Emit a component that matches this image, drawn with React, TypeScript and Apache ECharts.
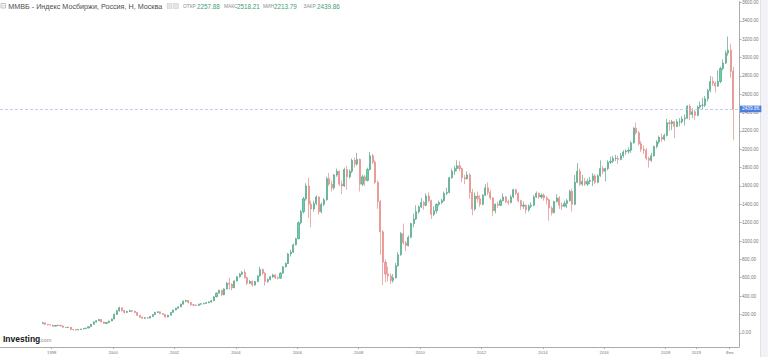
import React, { useEffect, useRef } from 'react';
import * as echarts from 'echarts';

const FONT = '"Liberation Sans", Arial, "DejaVu Sans", sans-serif';

// Monthly candles, first month = 1997-09
const START_YEAR = 1997;
const START_MONTH = 8; // 0-based (September)
const FIRST_OPEN = 100;

const closes = [
  108, 92, 86, 84, // 1997 Sep-Dec
  72, 80, 82, 74, 60, 56, 60, 36, 33, 30, 36, 40, // 1998
  46, 52, 66, 92, 118, 132, 145, 118, 102, 112, 128, 150, // 1999
  200, 238, 272, 242, 222, 232, 240, 236, 222, 190, 170, 158, // 2000
  165, 160, 178, 198, 222, 228, 210, 198, 172, 192, 222, 248, // 2001
  268, 282, 312, 345, 352, 330, 305, 302, 298, 312, 316, 320, // 2002
  328, 336, 350, 392, 432, 462, 415, 478, 540, 530, 490, 565, // 2003
  610, 640, 660, 600, 540, 560, 520, 560, 620, 690, 650, 560, // 2004
  580, 610, 630, 600, 595, 650, 720, 755, 860, 880, 960, 1025, // 2005
  1200, 1320, 1460, 1600, 1400, 1350, 1410, 1480, 1320, 1400, 1450, 1680, // 2006
  1620, 1580, 1720, 1760, 1620, 1600, 1780, 1700, 1760, 1880, 1840, 1890, // 2007
  1620, 1700, 1660, 1780, 1930, 1860, 1640, 1430, 1100, 770, 640, 620, // 2008
  570, 600, 730, 850, 1080, 980, 950, 1040, 1190, 1240, 1320, 1370, // 2009
  1420, 1390, 1490, 1440, 1290, 1330, 1400, 1420, 1440, 1520, 1530, 1690, // 2010
  1760, 1790, 1820, 1790, 1690, 1680, 1720, 1530, 1350, 1490, 1460, 1400, // 2011
  1500, 1580, 1530, 1470, 1330, 1400, 1390, 1440, 1480, 1430, 1420, 1480, // 2012
  1560, 1520, 1440, 1380, 1390, 1340, 1380, 1390, 1480, 1520, 1480, 1500, // 2013
  1470, 1450, 1360, 1310, 1430, 1470, 1390, 1380, 1410, 1440, 1540, 1400, // 2014
  1640, 1760, 1620, 1650, 1620, 1650, 1660, 1710, 1640, 1710, 1790, 1760, // 2015
  1790, 1860, 1870, 1900, 1900, 1890, 1930, 1970, 1980, 1990, 2070, 2230, // 2016
  2180, 2060, 2000, 1990, 1900, 1880, 1930, 2030, 2080, 2130, 2110, 2150, // 2017
  2290, 2280, 2300, 2250, 2300, 2300, 2330, 2340, 2470, 2380, 2410, 2370, // 2018
  2460, 2480, 2480, 2550, 2640, 2740, 2720, 2690, 2740, 2880, 2940, 3050, // 2019
  3080, 2850, 2439.86, // 2020 Jan-Mar
];

const highs = [
  120, 112, 95, 92,
  86, 83, 88, 84, 76, 64, 66, 62, 42, 36, 38, 44,
  50, 55, 70, 96, 124, 138, 152, 148, 122, 116, 132, 156,
  210, 250, 285, 276, 248, 240, 252, 246, 240, 226, 194, 175,
  172, 170, 182, 202, 228, 234, 232, 214, 202, 196, 226, 252,
  272, 288, 318, 352, 360, 356, 334, 312, 308, 318, 324, 328,
  336, 344, 358, 398, 440, 470, 468, 484, 552, 600, 540, 570,
  620, 652, 672, 690, 610, 575, 570, 565, 626, 720, 700, 660,
  592, 622, 642, 636, 612, 660, 728, 768, 870, 905, 972, 1035,
  1215, 1340, 1480, 1630, 1690, 1440, 1440, 1500, 1490, 1420, 1470, 1700,
  1740, 1660, 1730, 1790, 1770, 1660, 1800, 1820, 1780, 1900, 1910, 1960,
  1900, 1720, 1720, 1800, 1970, 1950, 1880, 1660, 1450, 1120, 800, 720,
  650, 640, 760, 880, 1100, 1190, 1000, 1060, 1200, 1300, 1390, 1390,
  1470, 1440, 1520, 1530, 1450, 1380, 1410, 1440, 1460, 1540, 1580, 1700,
  1790, 1820, 1880, 1870, 1800, 1720, 1760, 1740, 1570, 1530, 1540, 1500,
  1510, 1620, 1640, 1560, 1480, 1410, 1430, 1460, 1520, 1490, 1450, 1500,
  1570, 1570, 1530, 1450, 1430, 1400, 1400, 1420, 1500, 1540, 1530, 1520,
  1520, 1490, 1460, 1380, 1440, 1510, 1490, 1420, 1440, 1460, 1560, 1570,
  1720, 1850, 1790, 1720, 1690, 1680, 1700, 1740, 1730, 1730, 1880, 1820,
  1800, 1880, 1920, 1930, 1940, 1930, 1960, 1990, 2000, 2020, 2090, 2240,
  2290, 2200, 2090, 2040, 2010, 1920, 1960, 2040, 2100, 2150, 2170, 2170,
  2330, 2320, 2320, 2310, 2330, 2340, 2360, 2380, 2480, 2490, 2450, 2430,
  2480, 2520, 2560, 2580, 2660, 2800, 2790, 2740, 2860, 2900, 2980, 3080,
  3230, 3150, 2900,
];

const lows = [
  98, 85, 80, 80,
  66, 70, 76, 72, 56, 52, 54, 30, 26, 25, 28, 34,
  38, 44, 50, 64, 90, 112, 128, 112, 98, 98, 108, 126,
  148, 196, 232, 230, 210, 216, 226, 224, 214, 184, 162, 150,
  152, 154, 158, 174, 196, 216, 204, 194, 165, 170, 190, 220,
  244, 262, 280, 308, 332, 318, 296, 294, 290, 294, 306, 310,
  316, 322, 330, 346, 388, 428, 400, 410, 472, 470, 462, 486,
  560, 600, 628, 590, 520, 530, 505, 512, 552, 612, 630, 515,
  545, 572, 598, 585, 580, 590, 645, 710, 750, 830, 870, 950,
  1020, 1180, 1300, 1440, 1250, 1150, 1320, 1390, 1290, 1300, 1380, 1440,
  1600, 1540, 1560, 1700, 1600, 1510, 1590, 1560, 1680, 1740, 1800, 1820,
  1540, 1600, 1600, 1650, 1770, 1840, 1620, 1350, 850, 520, 550, 560,
  530, 545, 590, 720, 840, 960, 890, 940, 1030, 1150, 1230, 1300,
  1360, 1340, 1380, 1420, 1240, 1270, 1300, 1380, 1400, 1430, 1500, 1520,
  1680, 1720, 1760, 1760, 1640, 1620, 1670, 1460, 1280, 1330, 1420, 1370,
  1390, 1490, 1500, 1450, 1270, 1300, 1360, 1380, 1430, 1410, 1390, 1410,
  1470, 1500, 1420, 1340, 1350, 1300, 1320, 1360, 1380, 1470, 1460, 1460,
  1440, 1400, 1220, 1280, 1300, 1420, 1350, 1340, 1370, 1360, 1430, 1320,
  1390, 1630, 1600, 1600, 1600, 1600, 1620, 1600, 1620, 1630, 1700, 1730,
  1650, 1770, 1840, 1850, 1870, 1840, 1880, 1910, 1940, 1950, 1960, 2060,
  2160, 2040, 1970, 1950, 1880, 1800, 1860, 1920, 2010, 2060, 2080, 2090,
  2140, 2200, 2210, 2120, 2240, 2250, 2280, 2260, 2330, 2320, 2340, 2320,
  2360, 2440, 2440, 2460, 2520, 2620, 2690, 2620, 2680, 2720, 2860, 2930,
  3020, 2780, 2100,
];

const LAST_PRICE = 2439.86;

const yTickValues = [0, 200, 400, 600, 800, 1000, 1200, 1400, 1600, 1800, 2000, 2200, 2400, 2600, 2800, 3000, 3200, 3400, 3600];
const xTickDates: [number, number][] = [
  [1998, 0], [2000, 0], [2002, 0], [2004, 0], [2006, 0], [2008, 0], [2010, 0],
  [2012, 0], [2014, 0], [2016, 0], [2018, 0], [2019, 0], [2020, 1],
];
const xTickLabels = ['1998', '2000', '2002', '2004', '2006', '2008', '2010', '2012', '2014', '2016', '2018', '2019', 'Фев'];

const legendTitle = 'ММВБ - Индекс Мосбиржи, Россия, Н, Москва';
const ohlcLabels = ['ОТКР', 'МАКС', 'МИН', 'ЗАКР'];
const ohlcValues = ['2257.88', '2518.21', '2213.79', '2439.86'];

// view window of the time axis, in decimal years
const X_MIN_YEAR = 1996.316;
const X_MAX_YEAR = 2020.388;

function decYearToTs(y: number) {
  const yi = Math.floor(y);
  const s = Date.UTC(yi, 0, 1);
  const e = Date.UTC(yi + 1, 0, 1);
  return s + (y - yi) * (e - s);
}

export default function App() {
  const ref = useRef<HTMLDivElement>(null);

  useEffect(() => {
    if (!ref.current) return;
    const chart = echarts.init(ref.current, null, { renderer: 'svg' });

    const data = closes.map((c, i) => {
      const m = START_MONTH + i;
      const ts = Date.UTC(START_YEAR + Math.floor(m / 12), m % 12, 15);
      const o = i === 0 ? FIRST_OPEN : closes[i - 1];
      const h = Math.max(highs[i], o, c);
      const l = Math.min(lows[i], o, c);
      return [ts, o, c, l, h];
    });

    const xTickTs = xTickDates.map(([y, m]) => Date.UTC(y, m, 1));
    const labelFor = (v: number) => {
      const idx = xTickTs.findIndex((t) => Math.abs(t - v) < 86400000);
      return idx >= 0 ? xTickLabels[idx] : '';
    };

    const axisGray = '#ababab';

    const graphic: any[] = [
      { type: 'rect', silent: true, z: 0, shape: { x: 760, y: 0, width: 8, height: 357 }, style: { fill: '#f3f3f7' } },
      { type: 'line', silent: true, shape: { x1: 760.5, y1: 0, x2: 760.5, y2: 357 }, style: { stroke: '#e1e1e8', lineWidth: 1 } },
      { type: 'rect', silent: true, shape: { x: 1, y: 3.5, width: 4.5, height: 4.5 }, style: { fill: 'none', stroke: '#9a9a9a', lineWidth: 0.6 } },
      { type: 'line', silent: true, shape: { x1: 2, y1: 5.75, x2: 4.5, y2: 5.75 }, style: { stroke: '#9a9a9a', lineWidth: 0.6 } },
      {
        type: 'text', silent: true, x: 8.3, y: 6,
        style: { text: legendTitle, fontSize: 7.2, fill: '#4d4d4d', fontFamily: FONT, verticalAlign: 'middle', align: 'left' },
      },
      { type: 'polygon', silent: true, shape: { points: [[158, 5], [161.5, 5], [159.75, 7.2]] }, style: { fill: '#c6c6c6' } },
      { type: 'rect', silent: true, shape: { x: 167, y: 3.5, width: 5, height: 5 }, style: { fill: '#e6e6e6', stroke: '#c4c4c4', lineWidth: 0.5 } },
      { type: 'rect', silent: true, shape: { x: 173.5, y: 3.5, width: 5, height: 5 }, style: { fill: '#e6e6e6', stroke: '#c4c4c4', lineWidth: 0.5 } },
    ];
    const labelX = [183, 224, 263, 303.5];
    const valueX = [197, 237, 274, 317];
    ohlcLabels.forEach((lab, i) => {
      graphic.push({
        type: 'text', silent: true, x: labelX[i], y: 6.3,
        style: { text: lab, fontSize: 4.8, fill: '#8c8c8c', fontFamily: FONT, verticalAlign: 'middle', align: 'left' },
      });
      graphic.push({
        type: 'text', silent: true, x: valueX[i], y: 6,
        style: { text: ohlcValues[i], fontSize: 6.3, fill: '#3f9e73', fontFamily: FONT, verticalAlign: 'middle', align: 'left' },
      });
    });
    graphic.push({
      type: 'text', silent: true, x: 3, y: 343,
      style: { text: 'Investing', fontSize: 8.5, fontWeight: 'bold', fill: '#141414', fontFamily: FONT, verticalAlign: 'bottom', align: 'left' },
    });
    graphic.push({
      type: 'text', silent: true, x: 39.3, y: 342.6,
      style: { text: '.com', fontSize: 5.6, fill: '#8a8a8a', fontFamily: FONT, verticalAlign: 'bottom', align: 'left' },
    });

    chart.setOption({
      animation: false,
      backgroundColor: '#ffffff',
      textStyle: { fontFamily: FONT },
      grid: { left: 0, right: 29, top: 0, bottom: 10 },
      xAxis: {
        type: 'value',
        min: decYearToTs(X_MIN_YEAR),
        max: decYearToTs(X_MAX_YEAR),
        splitLine: { show: false },
        axisLine: { show: true, onZero: false, lineStyle: { color: axisGray, width: 1 } },
        axisTick: { show: true, length: 2, customValues: xTickTs, lineStyle: { color: axisGray } },
        axisLabel: {
          customValues: xTickTs,
          formatter: (v: number) => labelFor(v),
          fontSize: 4.2,
          color: '#777',
          margin: 3,
          fontFamily: FONT,
        },
      },
      yAxis: {
        type: 'value',
        position: 'right',
        min: -155,
        max: 3610,
        splitLine: { show: false },
        axisLine: { show: true, onZero: false, lineStyle: { color: axisGray, width: 1 } },
        axisTick: { show: true, length: 2.5, customValues: yTickValues, lineStyle: { color: axisGray } },
        axisLabel: {
          customValues: yTickValues,
          formatter: (v: number) => v.toFixed(2),
          fontSize: 4.6,
          color: '#777',
          margin: 3,
          fontFamily: FONT,
        },
      },
      series: [
        {
          type: 'candlestick',
          data,
          barWidth: 1.6,
          itemStyle: {
            color: '#5ad6a5',
            color0: '#f4a09e',
            borderColor: '#45947a',
            borderColor0: '#dc7a76',
            borderWidth: 0.6,
          },
          markLine: {
            silent: true,
            symbol: ['none', 'none'],
            lineStyle: { color: '#b2c2ec', type: [3, 2], width: 0.8 },
            label: {
              show: true,
              position: 'end',
              distance: 1,
              formatter: LAST_PRICE.toFixed(2),
              backgroundColor: '#4a7ee0',
              color: '#ffffff',
              fontSize: 4.8,
              padding: [1, 2, 0.6, 2],
              fontFamily: FONT,
            },
            data: [{ yAxis: LAST_PRICE }],
          },
        },
      ],
      graphic,
    });

    return () => chart.dispose();
  }, []);

  return <div ref={ref} style={{ position: 'absolute', left: 0, top: 0, width: 768, height: 357 }} />;
}
